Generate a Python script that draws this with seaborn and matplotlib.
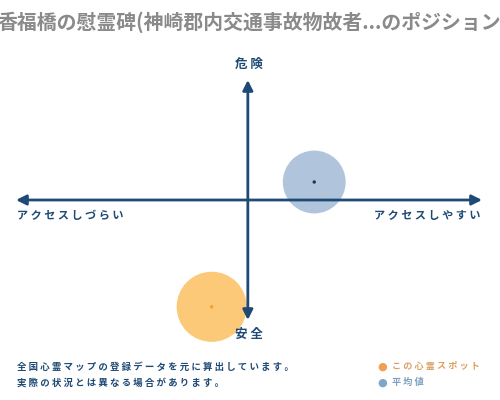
import pandas as pd
import matplotlib.pyplot as plt
import seaborn as sns

sns.set_style("white")
plt.rcParams["font.family"] = ["Noto Sans CJK JP", "DejaVu Sans"]

# data (position on the access / danger map, -1..1)
spots = ["この心霊スポット", "平均値"]
access = [-0.16, 0.28]
danger = [-0.89, 0.15]
spot_colors = ["#fcc469", "#a8bfd9"]
dot_colors = ["#f0a030", "#1d3557"]
bubble_size = [2550, 2050]

title = "香福橋の慰霊碑(神崎郡内交通事故物故者...のポジション"
note_lines = ["全国心霊マップの登録データを元に算出しています。",
              "実際の状況とは異なる場合があります。"]

navy = "#1f4a75"
df = pd.DataFrame({"spot": spots, "access": access, "danger": danger, "size": bubble_size})

fig = plt.figure(figsize=(5, 4), dpi=100)
ax = fig.add_axes([16 / 500, 80 / 400, 466 / 500, 240 / 400])
ax.set_xlim(-1, 1)
ax.set_ylim(-1, 1)
ax.axis("off")

# axes arrows
ax.annotate("", xy=(1, 0), xytext=(-1, 0), zorder=5,
            arrowprops=dict(arrowstyle="<|-|>,head_length=0.6,head_width=0.3",
                            color=navy, lw=2, shrinkA=0, shrinkB=0))
ax.annotate("", xy=(-0.005, 1), xytext=(-0.005, -1), zorder=5,
            arrowprops=dict(arrowstyle="<|-|>,head_length=0.6,head_width=0.3",
                            color=navy, lw=2, shrinkA=0, shrinkB=0))

sns.scatterplot(data=df, x="access", y="danger", hue="spot", size="spot",
                sizes=dict(zip(spots, bubble_size)), palette=dict(zip(spots, spot_colors)),
                alpha=0.9, linewidth=0, legend=False, ax=ax, zorder=2, clip_on=False)
sns.scatterplot(data=df, x="access", y="danger", hue="spot",
                palette=dict(zip(spots, dot_colors)), s=6, linewidth=0,
                legend=False, ax=ax, zorder=6, clip_on=False)

def spaced(s):
    return " ".join(s)

fig.text(-0.006, 0.945, title, ha="left", va="center", fontsize=14.3,
         fontweight="bold", color="#8a8a8a")
fig.text(0.498, 0.838, "危 険", ha="center", va="center", fontsize=9,
         fontweight="bold", color=navy)
fig.text(0.498, 0.163, "安 全", ha="center", va="center", fontsize=9,
         fontweight="bold", color=navy)
fig.text(0.034, 0.462, spaced("アクセスしづらい"), ha="left", va="center",
         fontsize=8, fontweight="bold", color=navy)
fig.text(0.962, 0.462, spaced("アクセスしやすい"), ha="right", va="center",
         fontsize=8, fontweight="bold", color=navy)

for i, line in enumerate(note_lines):
    fig.text(0.034, 0.083 - i * 0.04, spaced(line), ha="left", va="center",
             fontsize=6.8, fontweight="bold", color=navy)

leg_colors = ["#f0a050", "#7fa6c8"]
leg_text_colors = ["#d9a264", "#7f9fc0"]
for i, name in enumerate(spots):
    fig.text(0.755, 0.083 - i * 0.04, "●", ha="left", va="center",
             fontsize=8, color=leg_colors[i], family=["DejaVu Sans"])
    fig.text(0.783, 0.083 - i * 0.04, spaced(name), ha="left", va="center",
             fontsize=6.6, fontweight="bold", color=leg_text_colors[i])

fig.savefig("out.png", dpi=100, facecolor="white")
